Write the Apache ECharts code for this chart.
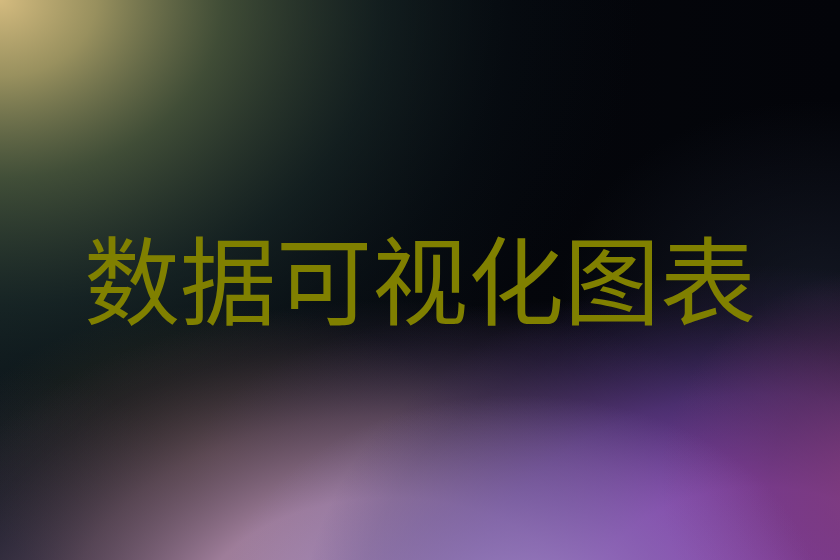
<!DOCTYPE html>
<html><head><meta charset="utf-8">
<script src="https://cdn.jsdelivr.net/npm/echarts@6/dist/echarts.min.js"></script>
<style>html,body{margin:0;padding:0;background:#05080e}#c{width:840px;height:560px}</style>
</head><body><div id="c"></div>
<script>
const titleText = ["数据可视化图表"];
// glow layers: centre, radii, colour stops
const glowCenters = [[0,0],[0,570],[220,455],[820,300],[570,470],[390,630],[760,635],[880,480],[520,605]];
const glowRadii = [[640,510],[220,200],[260,150],[260,200],[380,170],[500,330],[460,370],[220,210],[300,210]];
const glowColors = [
  [[0,'rgba(212,187,127,1)'],[0.15,'rgba(168,158,102,0.9)'],[0.35,'rgba(92,108,72,0.66)'],[0.6,'rgba(35,56,52,0.42)'],[0.8,'rgba(15,30,36,0.2)'],[1,'rgba(10,20,30,0)']],
  [[0,'rgba(45,45,65,0.7)'],[1,'rgba(45,45,65,0)']],
  [[0,'rgba(82,68,38,0.55)'],[1,'rgba(82,68,38,0)']],
  [[0,'rgba(32,38,55,0.55)'],[1,'rgba(32,38,55,0)']],
  [[0,'rgba(80,62,128,0.62)'],[1,'rgba(80,62,128,0)']],
  [[0,'rgba(185,150,185,1)'],[0.4,'rgba(165,130,160,0.95)'],[0.65,'rgba(115,88,110,0.65)'],[0.88,'rgba(60,45,65,0.25)'],[1,'rgba(60,45,65,0)']],
  [[0,'rgba(145,65,180,1)'],[0.4,'rgba(132,66,172,0.95)'],[0.65,'rgba(95,55,140,0.65)'],[0.88,'rgba(55,35,85,0.25)'],[1,'rgba(55,35,85,0)']],
  [[0,'rgba(135,60,120,0.8)'],[0.5,'rgba(110,50,100,0.45)'],[1,'rgba(110,50,100,0)']],
  [[0,'rgba(162,142,202,0.8)'],[0.5,'rgba(140,120,185,0.5)'],[1,'rgba(140,120,185,0)']]
];
const chart = echarts.init(document.getElementById('c'), null, {renderer:'canvas'});
const elems = [{type:'rect', shape:{x:0,y:0,width:840,height:560}, z:0,
  style:{fill:{type:'linear',x:0,y:0,x2:1,y2:0,colorStops:[{offset:0,color:'#0d1519'},{offset:0.6,color:'#04060b'},{offset:1,color:'#030409'}]}}}];
glowCenters.forEach((c,i)=>{
  elems.push({type:'circle', x:c[0], y:c[1], scaleX:glowRadii[i][0]/100, scaleY:glowRadii[i][1]/100,
    shape:{cx:0,cy:0,r:100}, z:1,
    style:{fill:{type:'radial',x:0.5,y:0.5,r:0.5,colorStops:glowColors[i].map(s=>({offset:s[0],color:s[1]}))}}});
});
elems.push({type:'text', x:420, y:281, z:10, style:{text:titleText[0], fill:'#808000',
  font:'normal 96px "Noto Sans CJK SC"', align:'center', verticalAlign:'middle'}});
chart.setOption({animation:false, backgroundColor:'#05080e', graphic:{elements:elems}});
</script></body></html>
